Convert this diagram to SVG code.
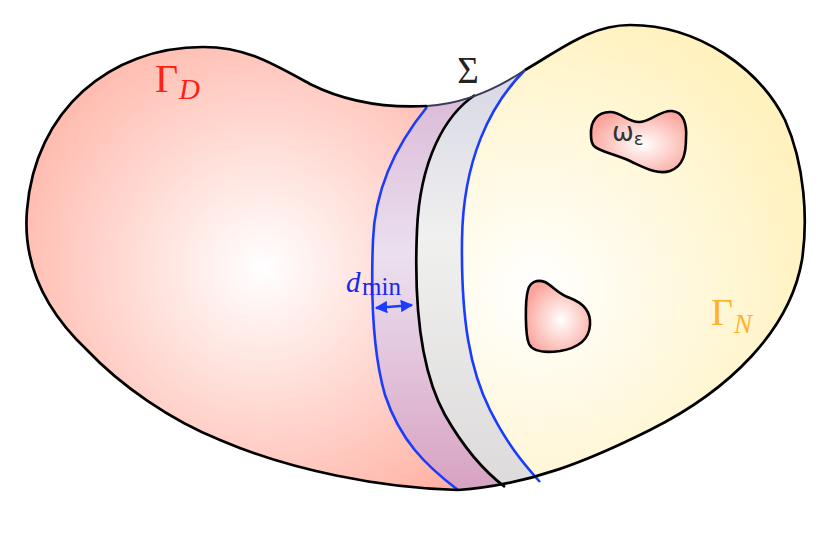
<svg xmlns="http://www.w3.org/2000/svg" width="830" height="534" viewBox="0 0 830 534">
<style>
.outline{fill:none;stroke:#000;stroke-width:2.7;stroke-linejoin:round}
.blue{fill:none;stroke:#1a3cff;stroke-width:2.6}
.mid{fill:none;stroke:#000;stroke-width:2.7}
.blob{fill:url(#gBlob);stroke:#000;stroke-width:2.6}
.serif{font-family:"Liberation Serif","DejaVu Serif",serif}
</style>
<defs>
<radialGradient id="gPink" gradientUnits="userSpaceOnUse" cx="262" cy="268" r="290">
<stop offset="0" stop-color="#ffffff"/><stop offset="1" stop-color="#ffb1a3"/>
</radialGradient>
<radialGradient id="gYellow" gradientUnits="userSpaceOnUse" cx="535" cy="290" r="290">
<stop offset="0" stop-color="#ffffff"/><stop offset="1" stop-color="#fff2bf"/>
</radialGradient>
<linearGradient id="gPurple" gradientUnits="userSpaceOnUse" x1="0" y1="100" x2="0" y2="490">
<stop offset="0" stop-color="#dcbcd8"/><stop offset="0.4" stop-color="#ebe0f0"/><stop offset="1" stop-color="#d8a2c2"/>
</linearGradient>
<linearGradient id="gGrey" gradientUnits="userSpaceOnUse" x1="0" y1="70" x2="0" y2="490">
<stop offset="0" stop-color="#d7d7e5"/><stop offset="0.4" stop-color="#f0f0ef"/><stop offset="1" stop-color="#dcdada"/>
</linearGradient>
<radialGradient id="gBlob" cx="0.55" cy="0.55" r="0.6">
<stop offset="0" stop-color="#ffffff"/><stop offset="1" stop-color="#fba39a"/>
</radialGradient>
<marker id="ah" viewBox="0 0 10 10" refX="9" refY="5" markerWidth="5" markerHeight="5" orient="auto-start-reverse" markerUnits="strokeWidth">
<path d="M0,0 L10,5 L0,10 Z" fill="#1a3cff"/>
</marker>
<clipPath id="bodyClip">
<path d="M427,106 C460,104 495,90 525,70 C560,50 590,25 630,25 C700,25 760,70 785,120 C805,165 808,220 802,260 C790,330 730,390 650,430 C590,460 530,485 458,490 C380,488 290,470 220,440 C170,420 120,385 87,350 C50,315 22,270 27,210 C35,110 110,47 203,47 C245,47 270,62 310,84 C350,104 390,108 427,106 Z"/>
</clipPath>
</defs>
<rect width="830" height="534" fill="#ffffff"/>
<g id="domain">
<g clip-path="url(#bodyClip)">
<rect id="gamma-n-region" x="0" y="0" width="830" height="534" fill="url(#gYellow)"/>
<path id="sigma-outer-band" fill="url(#gGrey)" d="M545,0 L545,50 L525,70 C490,105 463,160 462,240 C461,320 470,370 490,410 C505,440 520,460 538,480 L565,510 L565,534 L0,534 L0,0 Z"/>
<path id="sigma-inner-band" fill="url(#gPurple)" d="M505,0 L505,75 L475,95 C445,115 420,160 417,230 C414,300 420,370 445,415 C465,450 485,472 505,487 L535,510 L535,534 L0,534 L0,0 Z"/>
<path id="gamma-d-region" fill="url(#gPink)" d="M450,0 L450,80 L427,107 C400,140 375,185 373,240 C371,290 372,350 385,395 C400,440 425,465 458,490 L490,515 L490,534 L0,534 L0,0 Z"/>
</g>
</g>
<g id="connectors">
<path class="blue" d="M427,107 C400,140 375,185 373,240 C371,290 372,350 385,395 C400,440 425,465 458,490"/>
<path class="mid" d="M475,95 C445,115 420,160 417,230 C414,300 420,370 445,415 C465,450 485,472 505,487"/>
<path class="blue" d="M525,70 C490,105 463,160 462,240 C461,320 470,370 490,410 C505,440 520,460 540,482"/>
<path class="outline" d="M525,70 C560,50 590,25 630,25 C700,25 760,70 785,120 C805,165 808,220 802,260 C790,330 730,390 650,430 C590,460 530,485 458,490 C380,488 290,470 220,440 C170,420 120,385 87,350 C50,315 22,270 27,210 C35,110 110,47 203,47 C245,47 270,62 310,84 C350,104 390,108 427,106"/>
<path d="M427,106 C460,104 495,90 525,70" fill="none" stroke="#3a3a58" stroke-width="2"/>
<line id="dmin-arrow" x1="376" y1="308" x2="412" y2="305" stroke="#1a3cff" stroke-width="2.5" marker-start="url(#ah)" marker-end="url(#ah)"/>
</g>
<g id="omega1">
<path class="blob" d="M591,135 C590,122 597,112 610,112 C622,112 628,123 640,122 C652,121 660,110 672,111 C684,112 687,125 686,138 C686,152 684,166 670,171 C658,175 645,168 632,162 C618,155 600,152 594,146 C591,143 591,139 591,135 Z"/>
<text x="612" y="141" font-family="DejaVu Sans, sans-serif" font-size="26" fill="#333">ω<tspan font-size="18" dy="4">ε</tspan></text>
</g>
<g id="omega2">
<path class="blob" d="M528,290 C530,282 537,279 545,282 C553,286 558,294 570,298 C583,303 591,312 590,325 C589,340 578,348 560,351 C545,353 533,352 529,344 C525,335 525,300 528,290 Z"/>
</g>
<g id="label-sigma"><text class="serif" x="468" y="83" font-size="37" text-anchor="middle" fill="#222">Σ</text></g>
<g id="label-gamma-d"><text class="serif" x="155" y="92" font-size="40" fill="#ff2214">Γ<tspan font-size="29" font-style="italic" x="179" y="99">D</tspan></text></g>
<g id="label-gamma-n"><text class="serif" x="711" y="325" font-size="38" fill="#ffb12a">Γ<tspan font-size="27" font-style="italic" x="734" y="333">N</tspan></text></g>
<g id="label-dmin"><text class="serif" x="346" y="292" font-size="29" font-style="italic" fill="#1428f0">d<tspan font-style="normal" font-size="25" x="362" y="295">min</tspan></text></g>
</svg>
